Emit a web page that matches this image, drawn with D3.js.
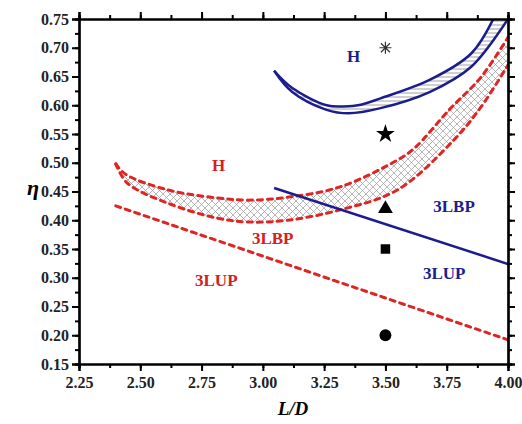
<!DOCTYPE html>
<html>
<head>
<meta charset="utf-8">
<script src="https://cdn.jsdelivr.net/npm/d3@7"></script>
<style>
  body { margin: 0; background: #fff; }
  .axis text { font-family: "Liberation Serif", "Times New Roman", serif; font-weight: bold; font-size: 16px; fill: #222; }
  .lbl { font-family: "Liberation Serif", "Times New Roman", serif; font-weight: bold; font-size: 17px; }
</style>
</head>
<body>
<div id="chart-area"></div>
<script>
// data (L/D, eta)
var blueUpper = [[3.046,0.660],[3.12,0.630],[3.26,0.600],[3.33,0.598],[3.40,0.601],[3.48,0.612],[3.68,0.644],[3.85,0.690],[3.94,0.750]];
var blueLower = [[3.046,0.660],[3.12,0.623],[3.26,0.592],[3.35,0.586],[3.48,0.595],[3.68,0.623],[3.85,0.667],[4.00,0.750]];
var redUpper = [[2.40,0.498],[2.44,0.480],[2.61,0.453],[2.81,0.439],[2.94,0.435],[3.10,0.440],[3.315,0.458],[3.55,0.505],[3.62,0.526],[3.76,0.592],[3.89,0.649],[4.00,0.718]];
var redLower = [[2.40,0.498],[2.446,0.465],[2.61,0.430],[2.81,0.404],[2.94,0.397],[3.10,0.400],[3.315,0.418],[3.55,0.453],[3.78,0.540],[3.89,0.597],[4.00,0.670]];
var blueLine = [[3.046,0.456],[4.00,0.324]];
var redLine = [[2.40,0.425],[4.00,0.192]];
var markers = [
  { x: 3.5, y: 0.70, sym: "asterisk" },
  { x: 3.5, y: 0.55, sym: "star" },
  { x: 3.5, y: 0.42, sym: "triangle" },
  { x: 3.5, y: 0.35, sym: "square" },
  { x: 3.5, y: 0.20, sym: "circle" }
];
var labels = [
  { x: 3.37, y: 0.675, t: "H", c: "#1c1c8e" },
  { x: 3.78, y: 0.415, t: "3LBP", c: "#1c1c8e" },
  { x: 3.74, y: 0.298, t: "3LUP", c: "#1c1c8e" },
  { x: 2.82, y: 0.485, t: "H", c: "#d42020" },
  { x: 3.04, y: 0.359, t: "3LBP", c: "#d42020" },
  { x: 2.81, y: 0.285, t: "3LUP", c: "#d42020" }
];
var xTicks = [2.25, 2.50, 2.75, 3.00, 3.25, 3.50, 3.75, 4.00];
var yTicks = [0.15, 0.20, 0.25, 0.30, 0.35, 0.40, 0.45, 0.50, 0.55, 0.60, 0.65, 0.70, 0.75];

var margin = { left: 79, right: 14, top: 19, bottom: 60 };
var width = 522 - margin.left - margin.right;
var height = 424 - margin.top - margin.bottom;

var svg = d3.select("#chart-area").append("svg")
    .attr("width", 522)
    .attr("height", 424);

var defs = svg.append("defs");
var hz = defs.append("pattern").attr("id", "hz")
    .attr("patternUnits", "userSpaceOnUse").attr("width", 6).attr("height", 4);
hz.append("line").attr("x1", 0).attr("y1", 2).attr("x2", 6).attr("y2", 2)
    .attr("stroke", "#888").attr("stroke-width", 0.8);
var xh = defs.append("pattern").attr("id", "xh")
    .attr("patternUnits", "userSpaceOnUse").attr("width", 7).attr("height", 7);
xh.append("path").attr("d", "M0,0L7,7M7,0L0,7")
    .attr("stroke", "#999").attr("stroke-width", 0.7);
defs.append("clipPath").attr("id", "clip").append("rect")
    .attr("width", width).attr("height", height);

var g = svg.append("g")
    .attr("transform", "translate(" + margin.left + ", " + margin.top + ")");

var x = d3.scaleLinear().domain([2.25, 4.00]).range([0, width]);
var y = d3.scaleLinear().domain([0.15, 0.75]).range([height, 0]);

var line = d3.line()
    .x((d) => x(d[0]))
    .y((d) => y(d[1]))
    .curve(d3.curveCatmullRom.alpha(0.5));

var plot = g.append("g").attr("clip-path", "url(#clip)");

// hatched bands: upper curve then lower curve backwards
function band(up, lo) {
    return line(up) + "L" + line(lo.slice().reverse()).slice(1) + "Z";
}
plot.append("path").attr("d", band(redUpper, redLower)).attr("fill", "url(#xh)");
plot.append("path").attr("d", band(blueUpper, blueLower)).attr("fill", "url(#hz)");

[blueUpper, blueLower].forEach((c) => {
    plot.append("path").attr("d", line(c))
        .attr("fill", "none").attr("stroke", "#1c1c8e").attr("stroke-width", 2.5);
});
[redUpper, redLower].forEach((c) => {
    plot.append("path").attr("d", line(c))
        .attr("fill", "none").attr("stroke", "#e02424").attr("stroke-width", 3)
        .attr("stroke-dasharray", "5,5").attr("stroke-linecap", "round");
});
plot.append("path").attr("d", d3.line().x((d) => x(d[0])).y((d) => y(d[1]))(redLine))
    .attr("fill", "none").attr("stroke", "#e02424").attr("stroke-width", 3)
    .attr("stroke-dasharray", "5,5").attr("stroke-linecap", "round");
plot.append("path").attr("d", d3.line().x((d) => x(d[0])).y((d) => y(d[1]))(blueLine))
    .attr("fill", "none").attr("stroke", "#1c1c8e").attr("stroke-width", 2.5);

// markers
var symMap = { star: d3.symbolStar, triangle: d3.symbolTriangle, square: d3.symbolSquare, circle: d3.symbolCircle };
var sizeMap = { star: 110, triangle: 95, square: 90, circle: 110 };
markers.forEach((m) => {
    var mg = g.append("g").attr("transform", "translate(" + x(m.x) + "," + y(m.y) + ")");
    if (m.sym === "asterisk") {
        mg.append("path").attr("d", "M-6,0H6M0,-6V6M-4.5,-4.5L4.5,4.5M-4.5,4.5L4.5,-4.5")
            .attr("stroke", "#333").attr("stroke-width", 1.2);
    } else {
        mg.append("path").attr("d", d3.symbol().type(symMap[m.sym]).size(sizeMap[m.sym])())
            .attr("fill", "#000");
    }
});

// region labels
g.selectAll(".lbl").data(labels).enter().append("text")
    .attr("class", "lbl")
    .attr("x", (d) => x(d.x))
    .attr("y", (d) => y(d.y))
    .attr("text-anchor", "middle")
    .attr("fill", (d) => d.c)
    .text((d) => d.t);

// axes with minor ticks
var xMinor = d3.range(2.25, 4.0001, 0.125);
var yMinor = d3.range(0.15, 0.7501, 0.025);

function styleAxis(sel) {
    sel.select(".domain").attr("stroke", "#000").attr("stroke-width", 2.2);
    sel.selectAll(".tick line").attr("stroke", "#000").attr("stroke-width", 2);
}

g.append("g").attr("transform", "translate(0," + height + ")")
    .call(d3.axisBottom(x).tickValues(xMinor).tickSize(4).tickFormat(""))
    .call(styleAxis);
g.append("g").attr("class", "axis").attr("transform", "translate(0," + height + ")")
    .call(d3.axisBottom(x).tickValues(xTicks).tickSize(7).tickPadding(6).tickFormat(d3.format(".2f")))
    .call(styleAxis);
g.append("g")
    .call(d3.axisTop(x).tickValues(xMinor).tickSize(4).tickFormat(""))
    .call(styleAxis);
g.append("g")
    .call(d3.axisTop(x).tickValues(xTicks).tickSize(7).tickFormat(""))
    .call(styleAxis);

g.append("g")
    .call(d3.axisLeft(y).tickValues(yMinor).tickSize(4).tickFormat(""))
    .call(styleAxis);
g.append("g").attr("class", "axis")
    .call(d3.axisLeft(y).tickValues(yTicks).tickSize(7).tickPadding(3).tickFormat(d3.format(".2f")))
    .call(styleAxis);
g.append("g").attr("transform", "translate(" + width + ",0)")
    .call(d3.axisRight(y).tickValues(yMinor).tickSize(4).tickFormat(""))
    .call(styleAxis);
g.append("g").attr("transform", "translate(" + width + ",0)")
    .call(d3.axisRight(y).tickValues(yTicks).tickSize(7).tickFormat(""))
    .call(styleAxis);

// axis titles
svg.append("text")
    .attr("x", 293)
    .attr("y", 415)
    .attr("text-anchor", "middle")
    .attr("font-family", "Liberation Serif, serif")
    .attr("font-weight", "bold")
    .attr("font-style", "italic")
    .attr("font-size", "19px")
    .text("L/D");
svg.append("text")
    .attr("x", 33)
    .attr("y", 195)
    .attr("text-anchor", "middle")
    .attr("font-family", "Liberation Serif, serif")
    .attr("font-weight", "bold")
    .attr("font-style", "italic")
    .attr("font-size", "22px")
    .text("η");
</script>
</body>
</html>
